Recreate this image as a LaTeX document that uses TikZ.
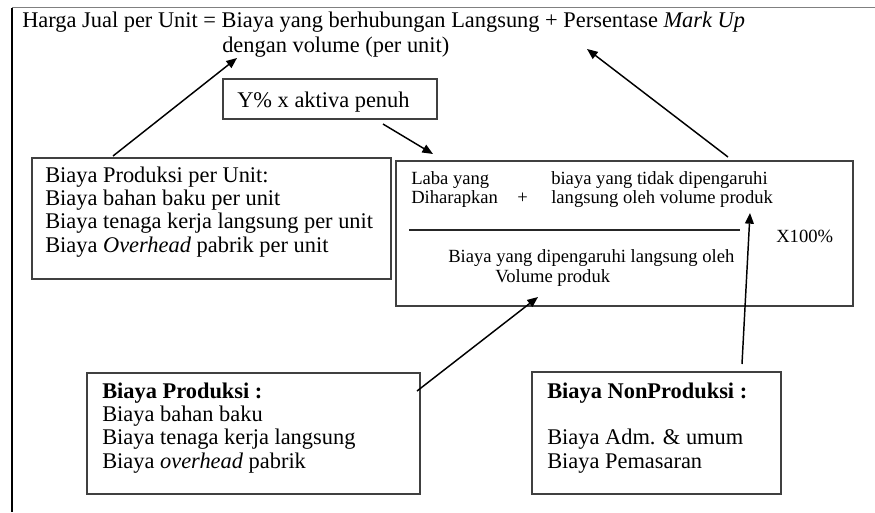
\documentclass[tikz,border=0pt]{standalone}
\usepackage{fontspec}
\setmainfont{Liberation Serif}
\usetikzlibrary{arrows.meta,fit}
\begin{document}
\begin{tikzpicture}[x=0.75pt,y=-0.75pt,
  boxshape/.style={draw=black!75,line width=0.9pt,inner sep=0pt},
  txt/.style={anchor=base west,inner sep=0pt,font=\fontsize{16.8}{17.6}\selectfont},
  smalltxt/.style={anchor=base west,inner sep=0pt,font=\fontsize{13.95}{14.6}\selectfont},
  arr/.style={-{Triangle[length=8pt,width=6.5pt]},line width=1.1pt,black}]
\useasboundingbox (0,0) rectangle (875,512);
% frame
\coordinate (fTL) at (12,7.5);
\coordinate (fTR) at (875,7.5);
\coordinate (fBL) at (12,512);
\draw[gray,line width=1.4pt] (fTL) -- (fTR);
\draw[black,line width=1.1pt] (fTL) -- (fBL);
% title
\node[txt] (title) at (22,27) {Harga Jual per Unit = Biaya yang berhubungan Langsung + Persentase \textit{Mark Up}};
\node[txt] (title2) at (222,52) {dengan volume (per unit)};
% Y% box
\node[boxshape,fit={(223,79) (437,119)}] (ybox) {};
\node[txt] (ytxt) at (237,107) {Y\% x aktiva penuh};
% left box
\node[boxshape,fit={(32,158) (391,279)}] (lbox) {};
\node[txt] (ltxt) at (45,182) {\begin{tabular}[t]{@{}l@{}}Biaya Produksi per Unit:\\Biaya bahan baku per unit\\Biaya tenaga kerja langsung per unit\\Biaya \textit{Overhead} pabrik per unit\end{tabular}};
% right box
\node[boxshape,fit={(396,161) (853,306)}] (rbox) {};
\node[smalltxt] (laba1) at (411,184) {Laba yang};
\node[smalltxt] (laba2) at (411,203) {Diharapkan};
\node[smalltxt] (plus) at (517,203) {+};
\node[smalltxt] (bt1) at (551,184) {biaya yang tidak dipengaruhi};
\node[smalltxt] (bt2) at (551,203) {langsung oleh volume produk};
\coordinate (ruleL) at (409,230);
\coordinate (ruleR) at (740,230);
\draw[line width=0.8pt,black!85] (ruleL) -- (ruleR);
\node[smalltxt] (x100) at (776,242) {X100\%};
\node[smalltxt] (bd1) at (448,262) {Biaya yang dipengaruhi langsung oleh};
\node[smalltxt] (bd2) at (495,282) {Volume produk};
% bottom left box
\node[boxshape,fit={(87,373) (420,494)}] (blbox) {};
\node[txt] (bltxt) at (102,398) {\begin{tabular}[t]{@{}l@{}}\textbf{Biaya Produksi :}\\Biaya bahan baku\\Biaya tenaga kerja langsung\\Biaya \textit{overhead} pabrik\end{tabular}};
% bottom right box
\node[boxshape,fit={(532,372) (781,494)}] (brbox) {};
\node[txt] (brtxt) at (547,398) {\begin{tabular}[t]{@{}l@{}}\textbf{Biaya NonProduksi :}\\[17.6pt]Biaya Adm. \& umum\\Biaya Pemasaran\end{tabular}};
% arrow end points
\coordinate (a1s) at (113,156);
\coordinate (a1e) at (237,58);
\coordinate (a2s) at (383,124);
\coordinate (a2e) at (433,154);
\coordinate (a3s) at (728,157);
\coordinate (a3e) at (587,49);
\coordinate (a4s) at (417,391);
\coordinate (a4e) at (538,297);
\coordinate (a5s) at (742,364);
\coordinate (a5e) at (750,213);
\draw[arr] (a1s) -- (a1e);
\draw[arr] (a2s) -- (a2e);
\draw[arr] (a3s) -- (a3e);
\draw[arr] (a4s) -- (a4e);
\draw[arr] (a5s) -- (a5e);
\end{tikzpicture}
\end{document}
